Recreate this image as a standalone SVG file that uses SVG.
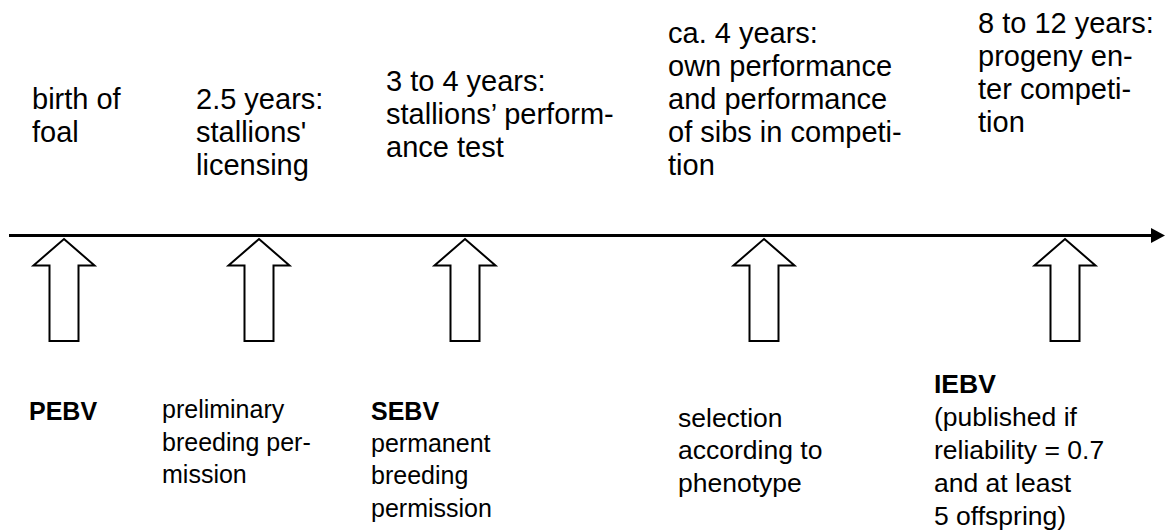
<svg xmlns="http://www.w3.org/2000/svg" width="1165" height="532" viewBox="0 0 1165 532">
<style>
text{font-family:"Liberation Sans",Arial,sans-serif;fill:#000}
.t{font-size:29px}
.b{font-size:25px}
.c{font-size:26.5px}
.bold{font-weight:bold}
.blk{fill:#fff;stroke:#000;stroke-width:2}
</style>
<defs>
<path id="ba" d="M0,0 L30.5,26.5 L14.5,26.5 L14.5,102 L-14.5,102 L-14.5,26.5 L-30.5,26.5 Z"/>
</defs>
<g id="connectors">
<line x1="9" y1="235.5" x2="1153" y2="235.5" stroke="#000" stroke-width="3"/>
<polygon points="1151,228 1165,235.5 1151,243" fill="#000"/>
</g>
<g id="a1"><use href="#ba" class="blk" x="64" y="239"/></g>
<g id="a2"><use href="#ba" class="blk" x="259" y="239"/></g>
<g id="a3"><use href="#ba" class="blk" x="465" y="239"/></g>
<g id="a4"><use href="#ba" class="blk" x="764" y="239"/></g>
<g id="a5"><use href="#ba" class="blk" x="1065" y="239"/></g>
<g id="top1"><text class="t" x="32" y="109">birth of</text><text class="t" x="32" y="142">foal</text></g>
<g id="top2"><text class="t" x="196" y="109">2.5 years:</text><text class="t" x="196" y="142">stallions'</text><text class="t" x="196" y="175">licensing</text></g>
<g id="top3"><text class="t" x="386" y="91">3 to 4 years:</text><text class="t" x="386" y="124">stallions’ perform-</text><text class="t" x="386" y="157">ance test</text></g>
<g id="top4"><text class="t" x="668" y="43">ca. 4 years:</text><text class="t" x="668" y="76">own performance</text><text class="t" x="668" y="109">and performance</text><text class="t" x="668" y="142">of sibs in competi-</text><text class="t" x="668" y="175">tion</text></g>
<g id="top5"><text class="t" x="978" y="33">8 to 12 years:</text><text class="t" x="978" y="66">progeny en-</text><text class="t" x="978" y="99">ter competi-</text><text class="t" x="978" y="132">tion</text></g>
<g id="bot1"><text class="b bold" x="29" y="420">PEBV</text></g>
<g id="bot2"><text class="b" x="162" y="418">preliminary</text><text class="b" x="162" y="451">breeding per-</text><text class="b" x="162" y="483">mission</text></g>
<g id="bot3"><text class="b bold" x="371" y="420">SEBV</text><text class="b" x="371" y="452">permanent</text><text class="b" x="371" y="484">breeding</text><text class="b" x="371" y="517">permission</text></g>
<g id="bot4"><text class="c" x="678" y="427">selection</text><text class="c" x="678" y="459">according to</text><text class="c" x="678" y="492">phenotype</text></g>
<g id="bot5"><text class="c bold" x="934" y="393">IEBV</text><text class="c" x="934" y="426">(published if</text><text class="c" x="934" y="459">reliability = 0.7</text><text class="c" x="934" y="492">and at least</text><text class="c" x="934" y="525">5 offspring)</text></g>
</svg>
